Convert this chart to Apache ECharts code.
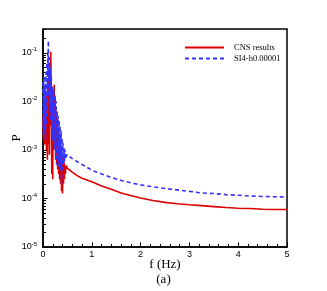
<!DOCTYPE html>
<html><head><meta charset="utf-8">
<script src="https://cdn.jsdelivr.net/npm/echarts@6/dist/echarts.min.js"></script>
<style>html,body{margin:0;padding:0;background:#fff}#c{width:327px;height:291px}</style>
</head><body><div id="c"></div>
<script>
// frequency samples (Hz)
const freq = [0.000,0.005,0.010,0.015,0.020,0.025,0.030,0.035,0.040,0.045,
  0.050,0.055,0.060,0.065,0.070,0.075,0.080,0.085,0.090,0.095,
  0.100,0.105,0.110,0.115,0.120,0.125,0.130,0.135,0.140,0.145,
  0.150,0.155,0.160,0.165,0.170,0.175,0.180,0.185,0.190,0.195,
  0.200,0.205,0.210,0.215,0.220,0.225,0.230,0.235,0.240,0.245,
  0.250,0.255,0.260,0.265,0.270,0.275,0.280,0.285,0.290,0.295,
  0.300,0.305,0.310,0.315,0.320,0.325,0.330,0.335,0.340,0.345,
  0.350,0.355,0.360,0.365,0.370,0.375,0.380,0.385,0.390,0.395,
  0.400,0.405,0.410,0.415,0.420,0.425,0.430,0.435,0.440,0.445,
  0.450,0.455,0.460,0.465,0.470,0.475,0.480,0.485,0.490,0.495,
  0.5,0.6,0.7,0.8,0.9,1.0,1.2,1.4,1.6,1.8,2.0,2.25,2.5,2.75,3.0,3.25,3.5,3.75,4.0,4.25,4.5,4.75,5.0];
// CNS results, P
const cnsP = [5.0e-3,2.5e-3,1.6e-3,6.3e-3,7.9e-3,2.0e-3,1.3e-3,4.0e-3,6.3e-3,1.3e-3,
  2.0e-3,7.9e-3,1.26e-2,2.5e-3,1.0e-3,6.3e-3,1.6e-2,1.6e-3,6.3e-4,1.0e-2,
  2.5e-2,3.2e-3,1.3e-3,2.0e-2,4.0e-2,6.3e-3,7.9e-4,1.6e-2,5.0e-2,1.0e-2,
  3.2e-3,6.3e-2,1.05e-1,2.5e-2,1.0e-2,1.6e-3,3.2e-4,6.3e-3,2.0e-2,1.3e-3,
  2.5e-4,5.0e-3,1.6e-2,3.2e-3,1.0e-3,1.0e-2,2.2e-2,4.0e-3,1.3e-3,7.9e-3,
  1.26e-2,2.5e-3,6.3e-4,4.0e-3,6.3e-3,1.3e-3,5.0e-4,2.5e-3,4.0e-3,1.0e-3,
  4.0e-4,1.6e-3,2.5e-3,7.9e-4,3.2e-4,1.3e-3,2.0e-3,6.3e-4,2.5e-4,1.0e-3,
  1.3e-3,5.0e-4,2.0e-4,7.9e-4,1.0e-3,4.0e-4,1.4e-4,5.0e-4,7.9e-4,3.2e-4,
  1.26e-4,4.0e-4,6.3e-4,3.2e-4,2.0e-4,5.0e-4,5.6e-4,3.5e-4,2.5e-4,5.0e-4,
  5.4e-4,4.0e-4,3.2e-4,4.8e-4,5.0e-4,4.0e-4,3.8e-4,4.7e-4,4.5e-4,4.2e-4,
  4.2e-4,3.5e-4,2.95e-4,2.6e-4,2.4e-4,2.2e-4,1.8e-4,1.55e-4,1.3e-4,1.15e-4,1.02e-4,9.1e-5,8.3e-5,7.8e-5,7.4e-5,7.1e-5,6.8e-5,6.5e-5,6.3e-5,6.2e-5,6.0e-5,5.9e-5,5.9e-5];
// SI4-h0.00001, P
const siP = [2.5e-2,6.3e-3,2.0e-3,1.26e-2,3.2e-2,5.0e-3,2.5e-3,1.6e-2,2.0e-2,4.0e-3,
  1.6e-3,1.26e-2,4.0e-2,7.9e-3,3.2e-3,2.5e-2,6.3e-2,1.26e-2,5.0e-3,4.0e-2,
  1.12e-1,3.2e-2,1.78e-1,5.0e-2,1.26e-2,3.2e-2,7.9e-2,2.0e-2,6.3e-3,2.5e-2,
  5.0e-2,1.26e-2,4.0e-3,1.6e-2,3.2e-2,7.9e-3,2.5e-3,1.0e-2,2.0e-2,5.0e-3,
  1.6e-3,7.9e-3,1.8e-2,4.0e-3,1.3e-3,6.3e-3,1.6e-2,3.2e-3,1.0e-3,5.0e-3,
  1.26e-2,2.5e-3,7.9e-4,4.0e-3,1.0e-2,2.0e-3,5.0e-4,2.5e-3,6.3e-3,1.6e-3,
  6.3e-4,2.0e-3,5.0e-3,1.3e-3,4.5e-4,1.6e-3,4.0e-3,1.0e-3,5.0e-4,1.3e-3,
  3.2e-3,7.9e-4,4.0e-4,1.0e-3,2.5e-3,6.3e-4,2.0e-4,7.9e-4,1.8e-3,7.1e-4,
  4.0e-4,1.0e-3,1.4e-3,7.9e-4,5.0e-4,8.9e-4,1.1e-3,7.1e-4,5.6e-4,8.9e-4,
  1.0e-3,7.1e-4,6.3e-4,8.3e-4,8.9e-4,7.6e-4,7.1e-4,8.1e-4,7.9e-4,7.8e-4,
  7.6e-4,6.6e-4,5.75e-4,5.0e-4,4.4e-4,3.8e-4,3.2e-4,2.7e-4,2.35e-4,2.1e-4,1.9e-4,1.74e-4,1.6e-4,1.5e-4,1.4e-4,1.3e-4,1.26e-4,1.2e-4,1.16e-4,1.12e-4,1.1e-4,1.08e-4,1.07e-4];
const seriesNames = ['CNS results','SI4-h0.00001'];
const yDecades = [-5,-4,-3,-2,-1];

const yMinor = [];
yDecades.forEach(d => { for (let k = 2; k <= 9; k++) { const v = d + Math.log10(k); if (v < -0.51) yMinor.push(v); } });
[2,3].forEach(k => { const v = -1 + Math.log10(k); if (v < -0.51) yMinor.push(v); });

const toPts = arr => freq.map((f, i) => [f, Math.log10(arr[i])]);

const chart = echarts.init(document.getElementById('c'), null, {renderer:'canvas'});
chart.setOption({
  animation:false,
  backgroundColor:'#fff',
  title:{text:'(a)', left:'center', top:273, padding:0, textStyle:{fontFamily:'Liberation Serif', fontSize:13, fontWeight:'normal', color:'#000'}},
  grid:{left:43, right:40, top:29, bottom:44, outerBoundsMode:'none', containLabel:false, show:true, borderColor:'#000', borderWidth:1.5},
  legend:{data:seriesNames, orient:'vertical', left:184, top:43, padding:0, itemWidth:39, itemHeight:8, itemGap:2,
    itemStyle:{opacity:0},
    textStyle:{fontFamily:'Liberation Serif', fontSize:8.5, color:'#000', padding:[0,0,0,5]}},
  xAxis:{type:'value', min:0, max:5, interval:1,
    name:'f (Hz)', nameLocation:'middle', nameGap:11, nameMoveOverlap:false,
    nameTextStyle:{fontFamily:'Liberation Serif', fontSize:13, color:'#000'},
    axisLine:{lineStyle:{color:'#000', width:1.5}},
    axisTick:{inside:true, length:4.5, lineStyle:{color:'#000', width:1}},
    minorTick:{show:true, splitNumber:5, length:3, lineStyle:{color:'#000', width:1}},
    axisLabel:{margin:3, fontFamily:'Liberation Sans', fontSize:9, color:'#000'},
    splitLine:{show:false}},
  yAxis:[{type:'value', min:-5, max:-0.51,
    name:'P', nameLocation:'middle', nameGap:20, nameRotate:90, nameMoveOverlap:false,
    nameTextStyle:{fontFamily:'Liberation Serif', fontSize:13, color:'#000'},
    axisLine:{lineStyle:{color:'#000', width:1.5}},
    axisTick:{inside:true, length:4.5, customValues:yDecades, lineStyle:{color:'#000', width:1}},
    axisLabel:{margin:6, customValues:yDecades, color:'#000',
      formatter:v => '{b|10}{s|' + v + '}',
      rich:{b:{fontFamily:'Liberation Sans', fontSize:9, color:'#000'},
            s:{fontFamily:'Liberation Sans', fontSize:6, color:'#000', padding:[0,0,6,0]}}},
    splitLine:{show:false}},
   {type:'value', min:-5, max:-0.51, position:'left',
    axisLine:{show:false},
    axisTick:{show:true, inside:true, length:3, customValues:yMinor, lineStyle:{color:'#000', width:1}},
    axisLabel:{show:false}, splitLine:{show:false}}],
  series:[
    {name:seriesNames[0], type:'line', data:toPts(cnsP), symbol:'none', z:2,
     lineStyle:{color:'#dd0000', width:1.6}, itemStyle:{color:'#dd0000'}},
    {name:seriesNames[1], type:'line', data:toPts(siP), symbol:'none', z:3,
     lineStyle:{color:'#3333ff', width:1.6, type:[4,3]}, itemStyle:{color:'#3333ff'}}
  ]
});
</script></body></html>
